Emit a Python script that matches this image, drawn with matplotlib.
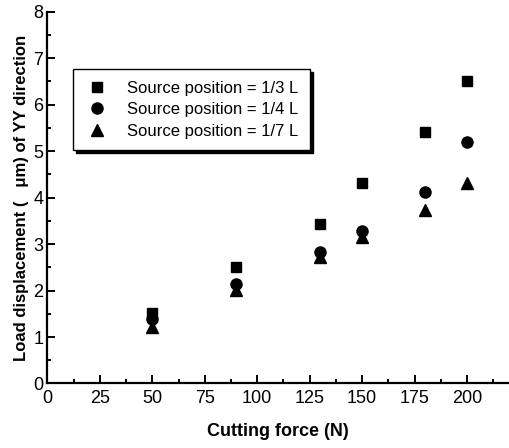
import matplotlib.pyplot as plt
from matplotlib.ticker import MultipleLocator

plt.rcParams['font.family'] = ['Liberation Sans', 'DejaVu Sans']

# cutting force (N)
force = [50, 90, 130, 150, 180, 200]
# load displacement (um) for each source position
pos_1_3 = [1.52, 2.51, 3.43, 4.32, 5.40, 6.51]
pos_1_4 = [1.38, 2.13, 2.82, 3.27, 4.12, 5.19]
pos_1_7 = [1.22, 2.01, 2.73, 3.16, 3.74, 4.32]
labels = ["Source position = 1/3 L", "Source position = 1/4 L", "Source position = 1/7 L"]

fig = plt.figure(figsize=(5.1, 4.48), dpi=100)
ax = fig.add_axes([0.093, 0.144, 0.905, 0.83])

ax.plot(force, pos_1_3, "s", color="black", markersize=7, label=labels[0])
ax.plot(force, pos_1_4, "o", color="black", markersize=8, label=labels[1])
ax.plot(force, pos_1_7, "^", color="black", markersize=8.5, label=labels[2])

ax.set_xlim(0, 220)
ax.set_ylim(0, 8)
ax.xaxis.set_major_locator(MultipleLocator(25))
ax.xaxis.set_minor_locator(MultipleLocator(12.5))
ax.yaxis.set_major_locator(MultipleLocator(1))
ax.yaxis.set_minor_locator(MultipleLocator(0.5))

ax.spines["top"].set_visible(False)
ax.spines["right"].set_visible(False)
ax.spines["left"].set_linewidth(1.6)
ax.spines["bottom"].set_linewidth(1.6)
ax.tick_params(which="both", direction="in", width=1.4, labelsize=13)
ax.tick_params(which="major", length=6)
ax.tick_params(which="minor", length=3)
ax.tick_params(axis="x", pad=5)
ax.tick_params(axis="y", pad=3)

ax.set_xlabel("Cutting force (N)", fontsize=13, fontweight="bold", labelpad=11)
ax.set_ylabel("Load displacement (   μm) of YY direction", fontsize=12,
              fontweight="bold", labelpad=3)

leg = ax.legend(loc="upper left", bbox_to_anchor=(0.055, 0.845), borderaxespad=0,
                fontsize=12, frameon=True, fancybox=False, edgecolor="black",
                shadow={"color": "black", "alpha": 1}, handletextpad=1.0,
                borderpad=0.68, labelspacing=0.4, handlelength=1.6)
leg.get_frame().set_linewidth(1.0)

fig.savefig("out.png", dpi=100)
